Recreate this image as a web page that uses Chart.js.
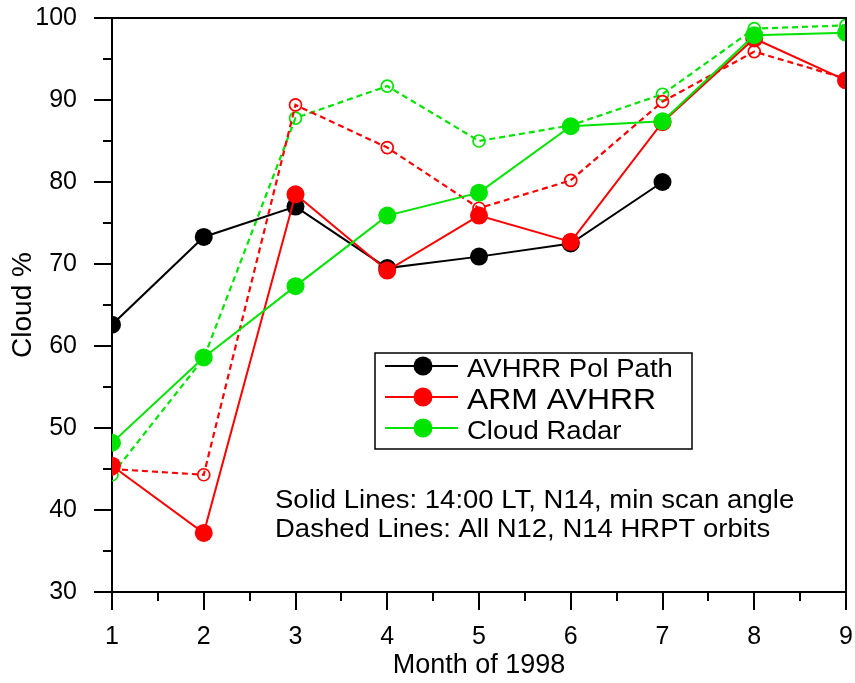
<!DOCTYPE html>
<html>
<head>
<meta charset="utf-8">
<script src="https://cdn.jsdelivr.net/npm/chart.js@4.4.1/dist/chart.umd.min.js"></script>
<style>
body{margin:0;background:#fff;}
#wrap{width:855px;height:683px;position:relative;}
</style>
</head>
<body>
<div id="wrap"><canvas id="cloudChart"></canvas></div>
<script>
// values (cloud % per month of 1998)
const months = [1,2,3,4,5,6,7,8,9];
const polPathSolid = [62.6,73.3,77.0,69.5,70.9,72.5,80.0];
const armSolid = [45.4,37.2,78.5,69.2,75.9,72.7,87.3,97.5,92.4];
const radarSolid = [48.2,58.6,67.3,75.9,78.7,86.8,87.4,97.9,98.2];
const armDashed = [45.0,44.3,89.4,84.2,76.8,80.2,89.8,95.9,92.6];
const radarDashed = [44.3,58.5,87.8,91.7,85.0,86.9,90.7,98.7,99.1];
const legendNames = ['AVHRR Pol Path','ARM AVHRR','Cloud Radar'];
const notes = ['Solid Lines: 14:00 LT, N14, min scan angle','Dashed Lines: All N12, N14 HRPT orbits'];

const BLACK = '#000000', RED = '#ff0000', GREEN = '#00e400';
const FONT = '"Liberation Sans", Arial, Helvetica, sans-serif';

function pts(vals){
  return vals.map((v,i) => ({x: months[i], y: v}));
}

function solid(label, vals, color){
  return {
    label: label, data: pts(vals),
    borderColor: color, backgroundColor: color,
    borderWidth: 2, pointRadius: 9, pointHoverRadius: 9,
    pointBackgroundColor: color, pointBorderColor: color, pointBorderWidth: 0
  };
}
function dashed(label, vals, color){
  return {
    label: label, data: pts(vals),
    borderColor: color, borderWidth: 2.2, borderDash: [6,4],
    pointRadius: 6, pointHoverRadius: 6, pointBorderWidth: 1.7,
    pointBackgroundColor: 'rgba(0,0,0,0)', pointBorderColor: color
  };
}

// text in the figure is a little wider than the font, so stretch it
function wideText(ctx, str, x, y, size){
  ctx.save();
  ctx.font = size + 'px ' + FONT;
  ctx.translate(x, y);
  ctx.scale(1.1, 1);
  ctx.fillText(str, 0, 0);
  ctx.restore();
}

const extras = {
  id: 'extras',
  afterDraw(chart){
    const ctx = chart.ctx, a = chart.chartArea;
    const x = chart.scales.x, y = chart.scales.y;
    ctx.save();
    ctx.strokeStyle = '#000';
    ctx.lineWidth = 2;
    ctx.beginPath();
    ctx.moveTo(a.left, a.top); ctx.lineTo(a.right, a.top); ctx.lineTo(a.right, a.bottom);
    for(let v = 1; v <= 9; v += 0.5){
      const px = Math.round(x.getPixelForValue(v));
      ctx.moveTo(px, a.bottom); ctx.lineTo(px, a.bottom + (v % 1 === 0 ? 18 : 9));
    }
    for(let v = 30; v <= 100; v += 5){
      const py = Math.round(y.getPixelForValue(v));
      ctx.moveTo(a.left, py); ctx.lineTo(a.left - (v % 10 === 0 ? 18 : 9), py);
    }
    ctx.stroke();

    // legend box
    ctx.lineWidth = 1.5;
    ctx.strokeRect(375, 353, 317, 96);
    const colors = [BLACK, RED, GREEN];
    const rows = [366, 397, 428];
    const sizes = [25, 29, 25];
    const base = [377, 409, 439];
    ctx.textBaseline = 'alphabetic';
    ctx.textAlign = 'left';
    for(let i = 0; i < 3; i++){
      ctx.strokeStyle = colors[i];
      ctx.lineWidth = 1.8;
      ctx.beginPath(); ctx.moveTo(385, rows[i]); ctx.lineTo(458, rows[i]); ctx.stroke();
      ctx.fillStyle = colors[i];
      ctx.beginPath(); ctx.arc(423, rows[i], 9.5, 0, Math.PI*2); ctx.fill();
      ctx.fillStyle = '#000';
      wideText(ctx, legendNames[i], 467, base[i], sizes[i]);
    }
    wideText(ctx, notes[0], 275, 508, 25);
    wideText(ctx, notes[1], 275, 537, 25);
    ctx.restore();
  }
};

new Chart(document.getElementById('cloudChart'), {
  type: 'line',
  data: {
    datasets: [
      solid('Cloud Radar', radarSolid, GREEN),
      solid('ARM AVHRR', armSolid, RED),
      solid('AVHRR Pol Path', polPathSolid, BLACK),
      dashed('ARM AVHRR all orbits', armDashed, RED),
      dashed('Cloud Radar all orbits', radarDashed, GREEN)
    ]
  },
  options: {
    responsive: true,
    maintainAspectRatio: false,
    animation: false,
    layout: {padding: {top: 18, right: 8, left: 0, bottom: 0}},
    plugins: {legend: {display: false}, tooltip: {enabled: false}},
    scales: {
      x: {
        type: 'linear', min: 1, max: 9,
        afterFit(s){ s.height = 91; s.paddingLeft = 0; s.paddingRight = 0; },
        ticks: {stepSize: 1, padding: 30, color: '#000', font: {size: 25, family: FONT}},
        grid: {display: false, drawTicks: false},
        border: {display: true, color: '#000', width: 2},
        title: {display: true, text: 'Month of 1998', color: '#000', font: {size: 27, family: FONT}, padding: {top: 4, bottom: 1}}
      },
      y: {
        type: 'linear', min: 30, max: 100,
        afterFit(s){ s.width = 112; s.paddingTop = 0; s.paddingBottom = 0; },
        ticks: {stepSize: 10, padding: 35, color: '#000', font: {size: 25, family: FONT}},
        grid: {display: false, drawTicks: false},
        border: {display: true, color: '#000', width: 2},
        title: {display: true, text: 'Cloud %', color: '#000', font: {size: 28, family: FONT}, padding: {top: 6, bottom: 6}}
      }
    }
  },
  plugins: [extras]
});
</script>
</body>
</html>
